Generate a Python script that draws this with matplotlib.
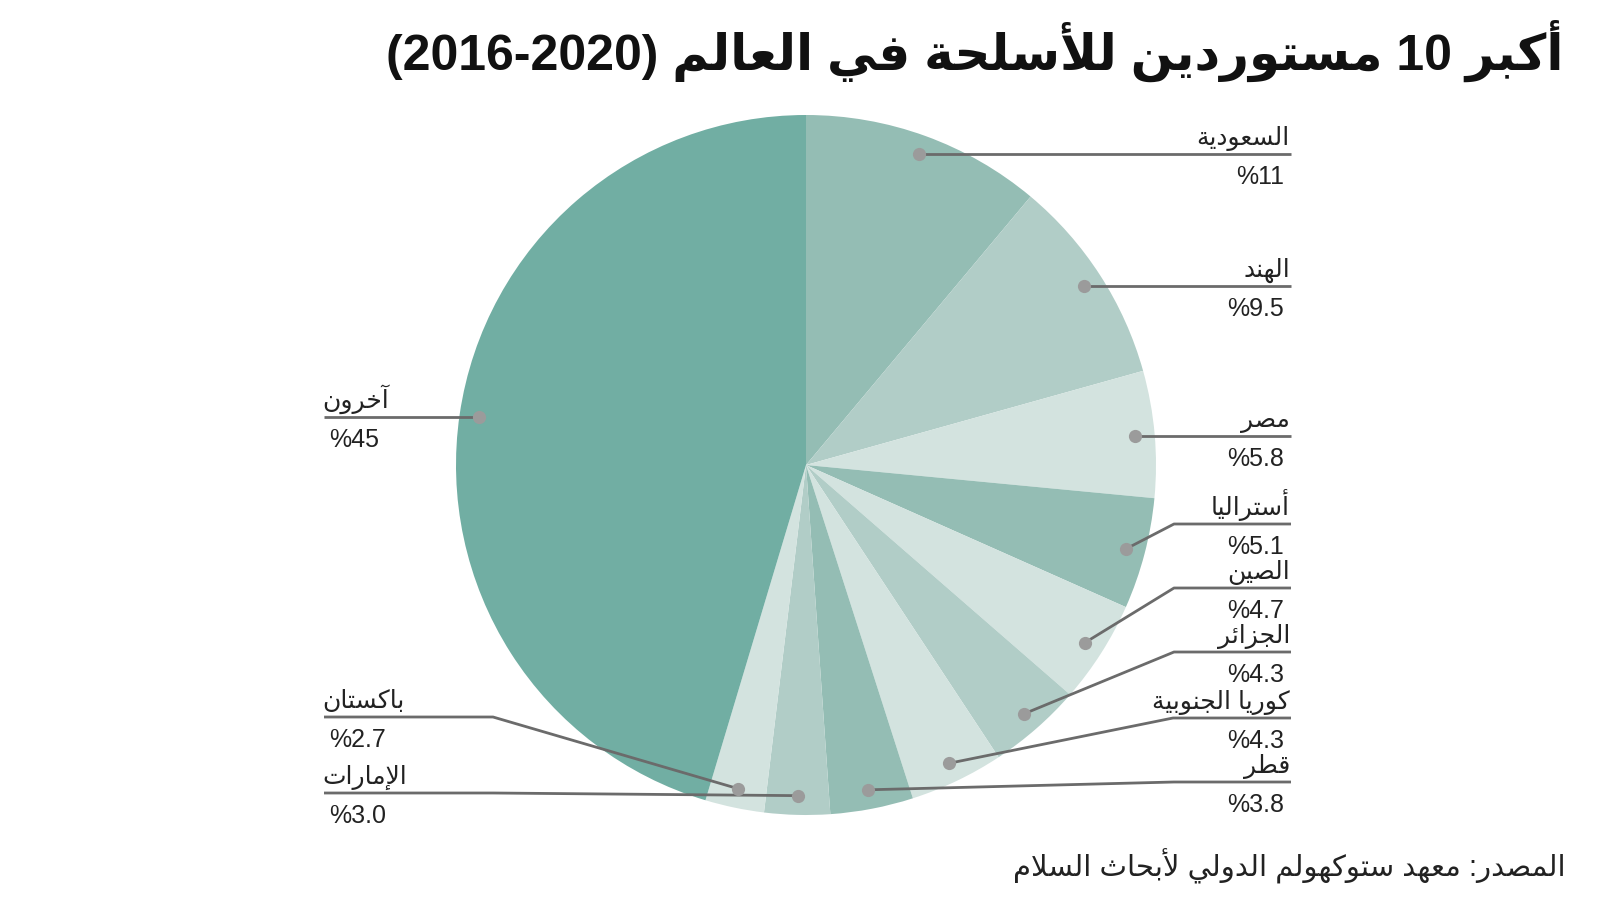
import numpy as np
import matplotlib
matplotlib.use("Agg")
from matplotlib import pyplot as plt

# --- data -------------------------------------------------------------
countries = ["السعودية", "الهند", "مصر", "أستراليا", "الصين", "الجزائر",
             "كوريا الجنوبية", "قطر", "الإمارات", "باكستان", "آخرون"]
shares = [11, 9.5, 5.8, 5.1, 4.7, 4.3, 4.3, 3.8, 3.0, 2.7, 45]
title = "أكبر 10 مستوردين للأسلحة في العالم (2016-2020)"
source = "المصدر: معهد ستوكهولم الدولي لأبحاث السلام"

# --- styles / layout --------------------------------------------------
MED, LMED, LIGHT, DARK = "#94bdb4", "#b1cdc7", "#d3e3df", "#71aea3"
colors = [MED, LMED, LIGHT, MED, LIGHT, LMED, LIGHT, MED, LMED, LIGHT, DARK]
# label row (image y of leader line), elbow x, side
rows = [(None, None, "r"), (None, None, "r"), (None, None, "r"),
        (524, 1174, "r"), (588, 1174, "r"), (652, 1174, "r"),
        (718, 1173, "r"), (782, 1174, "r"),
        (793, 493, "l"), (717, 493, "l"), (None, None, "l")]

# --- minimal arabic shaping (matplotlib has no text shaping) ----------
_forms = [("ء", 0xFE80, 1), ("آ", 0xFE81, 2), ("أ", 0xFE83, 2), ("ؤ", 0xFE85, 2),
          ("إ", 0xFE87, 2), ("ئ", 0xFE89, 4), ("ا", 0xFE8D, 2), ("ب", 0xFE8F, 4),
          ("ة", 0xFE93, 2), ("ت", 0xFE95, 4), ("ث", 0xFE99, 4), ("ج", 0xFE9D, 4),
          ("ح", 0xFEA1, 4), ("خ", 0xFEA5, 4), ("د", 0xFEA9, 2), ("ذ", 0xFEAB, 2),
          ("ر", 0xFEAD, 2), ("ز", 0xFEAF, 2), ("س", 0xFEB1, 4), ("ش", 0xFEB5, 4),
          ("ص", 0xFEB9, 4), ("ض", 0xFEBD, 4), ("ط", 0xFEC1, 4), ("ظ", 0xFEC5, 4),
          ("ع", 0xFEC9, 4), ("غ", 0xFECD, 4), ("ف", 0xFED1, 4), ("ق", 0xFED5, 4),
          ("ك", 0xFED9, 4), ("ل", 0xFEDD, 4), ("م", 0xFEE1, 4), ("ن", 0xFEE5, 4),
          ("ه", 0xFEE9, 4), ("و", 0xFEED, 2), ("ى", 0xFEEF, 2), ("ي", 0xFEF1, 4)]
FORMS = {c: (b, n) for c, b, n in _forms}
LAM_ALEF = {"آ": 0xFEF5, "أ": 0xFEF7, "إ": 0xFEF9, "ا": 0xFEFB}


def _joinable(c):
  return isinstance(c, tuple) or (c in FORMS and FORMS[c][1] > 1)


def _dual(c):
  return not isinstance(c, tuple) and c in FORMS and FORMS[c][1] == 4


def shape(word):
  chars, i = [], 0
  while i < len(word):
    if word[i] == "ل" and i + 1 < len(word) and word[i + 1] in LAM_ALEF:
      chars.append(("LA", word[i + 1])); i += 2
    else:
      chars.append(word[i]); i += 1
  out = []
  for k, c in enumerate(chars):
    prev = chars[k - 1] if k > 0 else None
    nxt = chars[k + 1] if k + 1 < len(chars) else None
    jp = prev is not None and _dual(prev) and _joinable(c)
    if isinstance(c, tuple):
      out.append(chr(LAM_ALEF[c[1]] + (1 if jp else 0)))
      continue
    if c not in FORMS:
      out.append(c); continue
    b, n = FORMS[c]
    jn = n == 4 and nxt is not None and _joinable(nxt)
    if n == 1:
      out.append(chr(b)); continue
    out.append(chr(b + (1 if jp else 0) + (2 if jn else 0)))
  return "".join(out)


def ar(text):
  vis = []
  for w in text.split(" "):
    if any("\u0600" <= ch <= "\u06ff" for ch in w):
      vis.append(shape(w)[::-1])
    else:
      vis.append(w)
  return " ".join(vis[::-1])


def pct(v):
  return "%" + (f"{v:.0f}" if v >= 10 else f"{v:.1f}")


plt.rcParams["font.family"] = ["Liberation Sans", "DejaVu Sans"]

W, H = 1600, 900
fig = plt.figure(figsize=(16, 9), dpi=100)
ax = fig.add_axes([0, 0, 1, 1])

cx, cy, R = 806, H - 465, 350
wedges, _ = ax.pie(shares, colors=colors, startangle=90, counterclock=False,
                   center=(cx, cy), radius=R, wedgeprops=dict(linewidth=0))
ax.set_xlim(0, W)
ax.set_ylim(0, H)
ax.axis("off")

LINE = "#6b6b6b"
DOT = "#9b9b9b"
TXT = "#222222"
for w, name, v, (row, elbow, side) in zip(wedges, countries, shares, rows):
  mid = np.deg2rad((w.theta1 + w.theta2) / 2)
  dx, dy = cx + 0.945 * R * np.cos(mid), cy + 0.945 * R * np.sin(mid)
  ly = dy if row is None else H - row
  if side == "r":
    end = 1291
    xs = [dx, end] if elbow is None else [dx, elbow, end]
    tx, px, ha = 1290, 1284, "right"
  else:
    end = 324
    xs = [dx, end] if elbow is None else [dx, elbow, end]
    tx, px, ha = 322, 329, "left"
  ys = [ly] * len(xs)
  ys[0] = dy
  ax.plot(xs, ys, color=LINE, lw=2.0, solid_capstyle="butt", zorder=3)
  ax.plot([dx], [dy], "o", color=DOT, ms=9.5, mec="none", zorder=4)
  ax.text(tx, ly + 9, ar(name), ha=ha, va="baseline", fontsize=18, color=TXT)
  ax.text(px, ly - 23, pct(v), ha=ha, va="center", fontsize=18, color=TXT)

fig.text(1564 / W, 1 - 51 / H, ar(title), ha="right", va="center",
         fontsize=36, fontweight="bold", color="#111111")
fig.text(1566 / W, 1 - 866 / H, ar(source), ha="right", va="center",
         fontsize=21, color=TXT)

fig.savefig("out.png", dpi=100, facecolor="white")
